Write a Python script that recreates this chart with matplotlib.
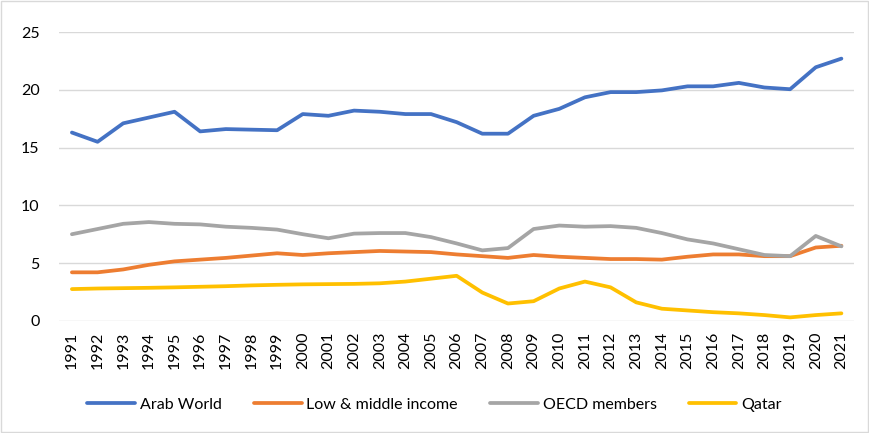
import numpy as np
import matplotlib
matplotlib.use('Agg')
import matplotlib.pyplot as plt

plt.rcParams['font.family'] = ['Lato', 'DejaVu Sans']

years = [str(y) for y in range(1991, 2022)]

arab_world = [16.3, 15.5, 17.1, 17.6, 18.1, 16.4, 16.6, 16.55, 16.5, 17.9, 17.75,
              18.2, 18.1, 17.9, 17.9, 17.2, 16.2, 16.2, 17.75, 18.35, 19.35,
              19.8, 19.8, 19.95, 20.3, 20.3, 20.6, 20.2, 20.05, 21.95, 22.7]
low_middle = [4.2, 4.2, 4.45, 4.85, 5.15, 5.3, 5.45, 5.65, 5.85, 5.7, 5.85,
              5.95, 6.05, 6.0, 5.95, 5.75, 5.6, 5.45, 5.7, 5.55, 5.45,
              5.35, 5.35, 5.3, 5.55, 5.75, 5.75, 5.6, 5.6, 6.35, 6.5]
oecd = [7.5, 7.95, 8.4, 8.55, 8.4, 8.35, 8.15, 8.05, 7.9, 7.5, 7.15,
        7.55, 7.6, 7.6, 7.25, 6.7, 6.1, 6.3, 7.95, 8.25, 8.15,
        8.2, 8.05, 7.6, 7.05, 6.7, 6.2, 5.7, 5.6, 7.35, 6.45]
qatar = [2.75, 2.8, 2.83, 2.86, 2.9, 2.95, 3.0, 3.07, 3.12, 3.16, 3.18,
         3.2, 3.25, 3.4, 3.65, 3.9, 2.45, 1.5, 1.7, 2.8, 3.4,
         2.9, 1.6, 1.05, 0.9, 0.75, 0.65, 0.5, 0.3, 0.5, 0.65]

series = [
    ('Arab World', arab_world, '#4472C4'),
    ('Low & middle income', low_middle, '#ED7D31'),
    ('OECD members', oecd, '#A5A5A5'),
    ('Qatar', qatar, '#FFC000'),
]

fig = plt.figure(figsize=(8.69, 4.33), dpi=100)
ax = fig.add_axes([0.068, 0.259, 0.915, 0.667])

x = np.arange(len(years))
for name, vals, col in series:
    ax.plot(x, vals, color=col, linewidth=2.7, label=name, solid_capstyle='round')

ax.set_xlim(-0.5, len(years) - 0.5)
ax.set_ylim(0, 25)
ax.set_yticks([0, 5, 10, 15, 20, 25])
ax.set_xticks(x)
ax.set_xticklabels(years, rotation=90, fontsize=11.5)
ax.tick_params(axis='y', labelsize=11.5, length=0, pad=14)
ax.tick_params(axis='x', length=0, pad=8)
ax.grid(axis='y', color='#D9D9D9', linewidth=1)
ax.set_axisbelow(True)
for s in ax.spines.values():
    s.set_visible(False)

fig.legend(loc='center', bbox_to_anchor=(0.5, 0.065), ncol=4, frameon=False,
           fontsize=11.5, handlelength=3, columnspacing=2.0, handletextpad=0.3)

border = plt.Rectangle((0.001, 0.002), 0.998, 0.996, transform=fig.transFigure,
                       fill=False, edgecolor='#D9D9D9', linewidth=1)
fig.patches.append(border)

fig.savefig('out.png', dpi=100)
